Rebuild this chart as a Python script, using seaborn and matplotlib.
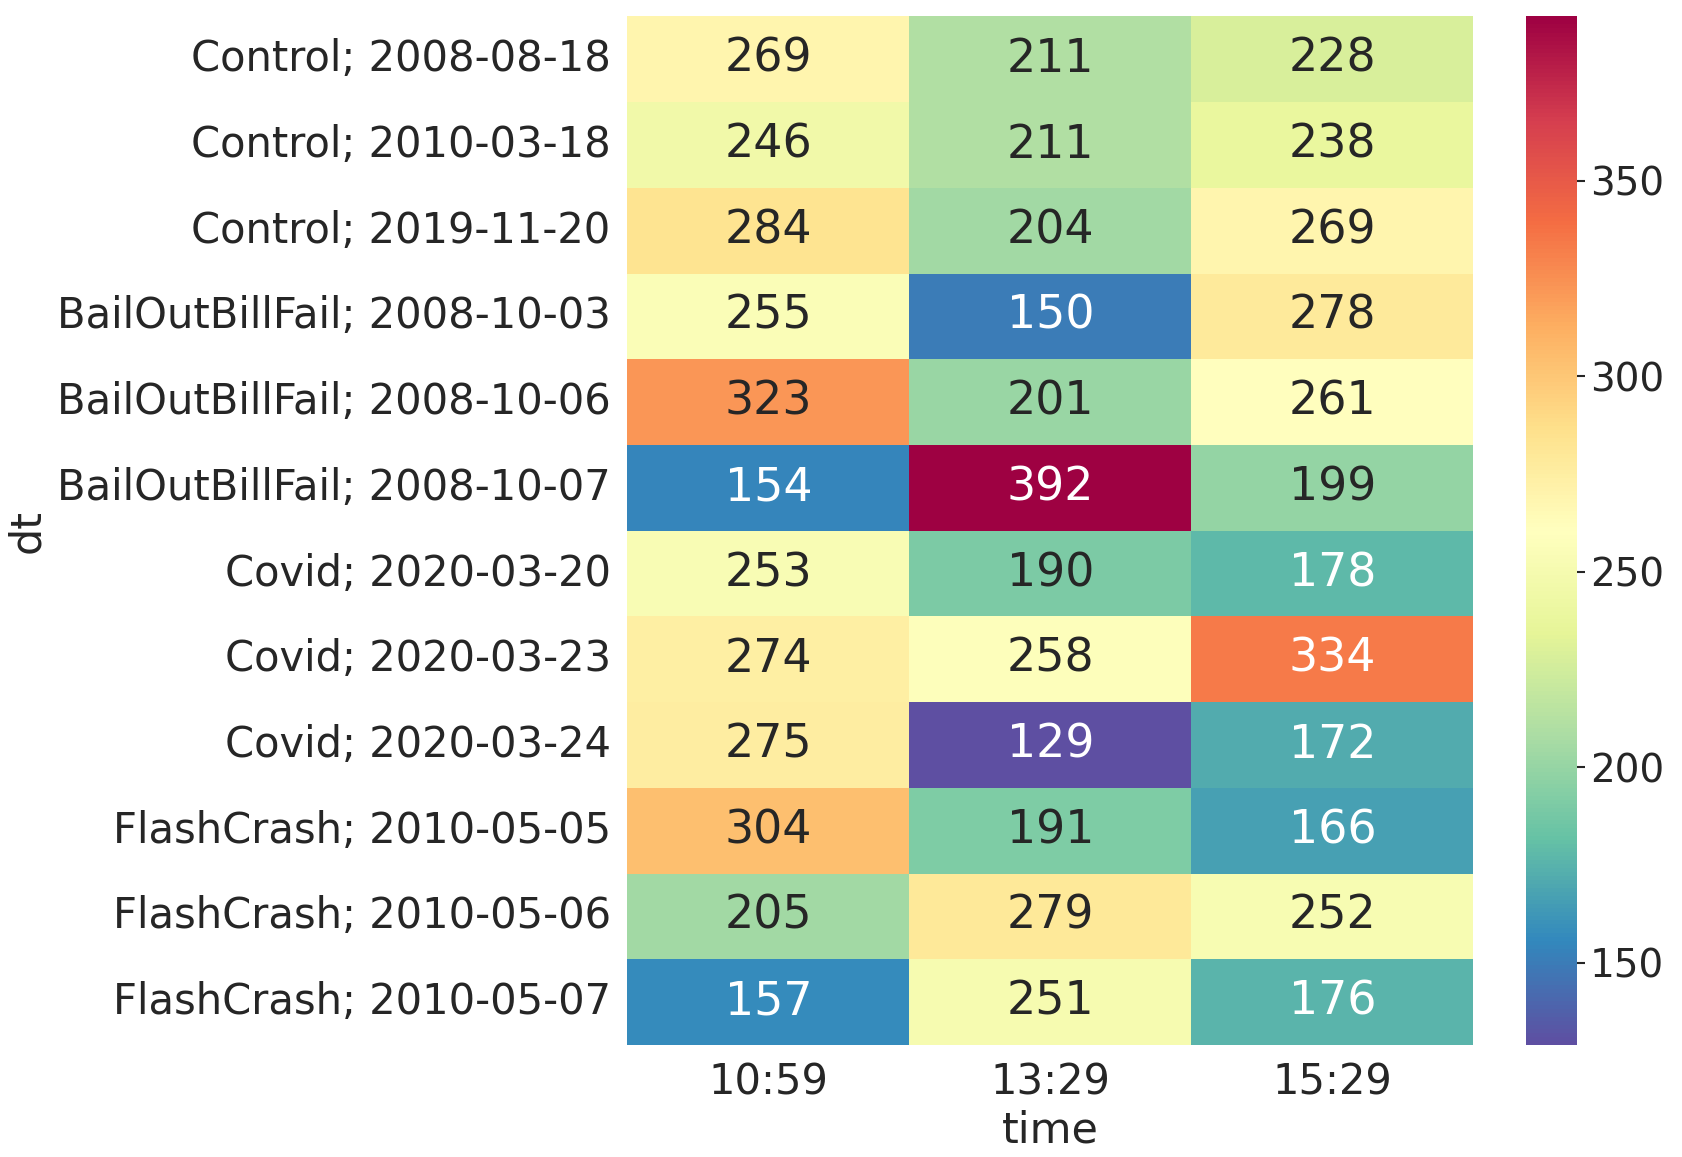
import numpy as np
import pandas as pd
import matplotlib
matplotlib.use("Agg")
import matplotlib.pyplot as plt
import seaborn as sns

# данные
rows = ['Control; 2008-08-18', 'Control; 2010-03-18', 'Control; 2019-11-20',
        'BailOutBillFail; 2008-10-03', 'BailOutBillFail; 2008-10-06', 'BailOutBillFail; 2008-10-07',
        'Covid; 2020-03-20', 'Covid; 2020-03-23', 'Covid; 2020-03-24',
        'FlashCrash; 2010-05-05', 'FlashCrash; 2010-05-06', 'FlashCrash; 2010-05-07']
times = ['10:59', '13:29', '15:29']
v_1059 = [269, 246, 284, 255, 323, 154, 253, 274, 275, 304, 205, 157]
v_1329 = [211, 211, 204, 150, 201, 392, 190, 258, 129, 191, 279, 251]
v_1529 = [228, 238, 269, 278, 261, 199, 178, 334, 172, 166, 252, 176]

df = pd.DataFrame({'10:59': v_1059, '13:29': v_1329, '15:29': v_1529}, index=rows)
df.index.name = 'dt'
df.columns.name = 'time'

sns.set_theme(style='white', font_scale=1.0)
plt.rcParams['font.family'] = ['DejaVu Sans']

fig = plt.figure(figsize=(16.82, 11.57), dpi=100)
ax = fig.add_axes([0.373, 0.0968, 0.503, 0.889])
cax = fig.add_axes([0.907, 0.0968, 0.0303, 0.889])

sns.heatmap(df, annot=True, fmt='d', cmap='Spectral_r', ax=ax, cbar_ax=cax,
            annot_kws={'fontsize': 33})
ax.tick_params(axis='both', labelsize=30, length=0, pad=12)
ax.set_yticklabels(ax.get_yticklabels(), rotation=0)
ax.set_xticklabels(ax.get_xticklabels(), rotation=0)
ax.set_xlabel('time', fontsize=31, labelpad=4)
ax.set_ylabel('dt', fontsize=31, labelpad=6)
cax.tick_params(labelsize=28, length=6, width=1.5)
cax.set_yticks([150, 200, 250, 300, 350])

fig.savefig('out.png', dpi=100)
